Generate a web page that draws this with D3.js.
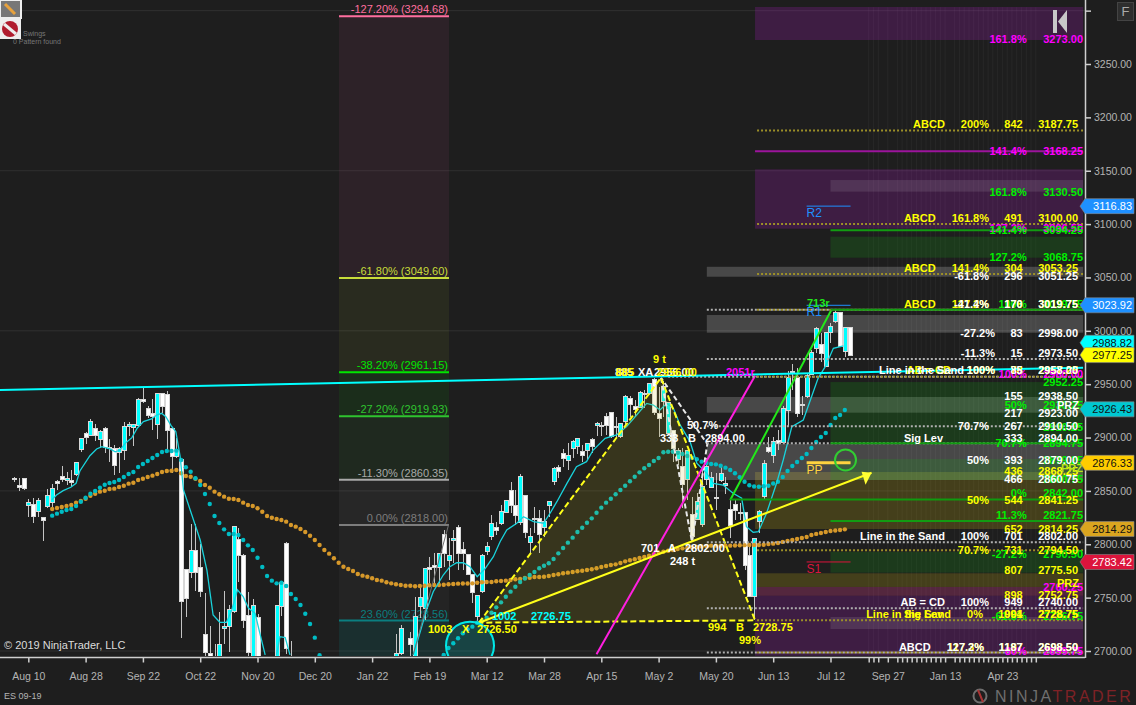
<html>
<head>
<meta charset="utf-8">
<script src="https://d3js.org/d3.v7.min.js"></script>
<style>
    body { margin: 0; background: #1e1e1e; overflow: hidden; }
    svg { display: block; font-family: "Liberation Sans", Arial, sans-serif; }
    .axis path, .axis line { stroke: #cfcfcf; stroke-width: 1.5px; }
    .axis text { fill: #b4b4b4; font-size: 10.5px; font-family: "Liberation Sans", Arial, sans-serif; }
    .row text, .note { font-size: 11px; font-weight: bold; }
</style>
</head>
<body>
<svg width="1136" height="705"></svg>
<script>
// candles, first one is bar -3, bar 0 is the "Aug 10" tick. null = below the panel
const firstBar = -3;
const opens = [
  2861.5, 2855.25, 2861.75, 2836.5, 2837.5, 2830.5, 2825.25, 2835.25, 2839, 2858.5,
  2863.75, 2859.5, 2860, 2865, 2889, 2904, 2902, 2908.75, 2898.5, 2908.75,
  2890.5, 2890, 2885.75, 2888, 2910.25, 2909.25, 2911, 2935.75, 2927.5, 2922.75,
  2912.5, 2941.5, 2940, 2908.75, 2882, 2879.5, 2776.5, 2774, 2794, 2778.5,
  2715.5, 2697.75, 2688, 2690, 2721.25, 2722.75, 2736.75, 2804.75, 2789.75, 2733.5,
  2680, 2731.5, null, null, null, 2680, 2741.5, 2801, 2690,
  null, null, null, null, null, null, null, null, null, null, null, null, null, null, null, null, null, null, null, null, null,
  2690, 2697.75, null, 2712, 2690, 2741.5, 2740, 2778.5, 2780, 2778,
  2808.75, 2785.25, 2803.75, 2816, 2795.25, 2790.5, 2772, 2732.75, 2755.5, 2793,
  2807, 2815.5, 2819.75, 2830, 2850, 2836.75, 2820.25, 2846, 2801.75, 2823.75,
  2824.25, 2816, 2836, 2858.5, 2872, 2885.25, 2878.25, 2889.5, 2891.5, 2886.75,
  2887.75, 2898, 2911, 2911.75, 2919.5, 2923.75, 2910.25, 2900.75, 2915, 2937,
  2929.5, 2928.25, 2941.5, 2941.5, 2954.5, 2922.75, 2933.5, 2904, 2906.5, 2879,
  2872.75, 2860.25, 2827.5, 2822.75, 2818.75, 2860.25, 2853, 2842.5, 2859.5, 2855.5,
  2832.75, 2837.5, 2830, 2830, 2789.25, 2751, 2821.25, 2844.5, 2890.75, 2883,
  2897, 2895.25, 2925.75, 2961.75, 2956.5, 2931.25, 2938.25, 2959.5, 2983.5, 2986.75,
  2966.5, 2998.25, 3008.5, 3017.5, 2980.5, 3003
];
const highs = [
  2863, 2862, 2862, 2842.5, 2843.5, 2843.5, 2825.5, 2851.5, 2856.5, 2860.25,
  2873.25, 2867.5, 2869.5, 2877, 2899.25, 2905.5, 2917, 2912.5, 2907, 2909.5,
  2898.5, 2892.75, 2891.5, 2914.25, 2914.25, 2912.5, 2936.75, 2946.75, 2929.75, 2936,
  2941.5, 2941.5, 2943.5, 2908.75, 2899.5, 2880.75, 2776.5, 2819, 2819, 2800.25,
  2754, 2723.5, 2706.5, 2736.25, 2756.25, 2742.75, 2816.5, 2815, 2791, 2755.25,
  2748.5, 2734.5, null, null, null, 2742.25, 2765, 2802, 2709.5,
  null, null, null, null, null, null, null, null, null, null, null, null, null, null, null, null, null, null, null, null, null,
  2716, 2724.5, null, 2718, 2751, 2760.25, 2777.5, 2788.5, 2791.5, 2792,
  2813.5, 2805.5, 2813.5, 2818, 2802.5, 2791, 2772, 2751.75, 2790.5, 2802.5,
  2827.5, 2821.25, 2836.75, 2841, 2858, 2851, 2865.5, 2846.25, 2815.5, 2835.25,
  2832, 2832, 2840.5, 2872.75, 2874.25, 2889, 2894.5, 2897.75, 2899.5, 2893,
  2894.75, 2899.25, 2915, 2914.25, 2923.25, 2923.75, 2919.5, 2913.5, 2940, 2939,
  2935.25, 2943.5, 2944.5, 2950.75, 2955.75, 2947.75, 2953, 2933.5, 2907, 2890.5,
  2890.5, 2888.25, 2844.5, 2847.75, 2869.5, 2880.5, 2868, 2866.5, 2874.25, 2863.25,
  2841.5, 2842, 2838.5, 2830.5, 2797.75, 2805.5, 2832, 2879, 2900.75, 2900.75,
  2907, 2929.5, 2962.5, 2969, 2965, 2939, 2960.25, 2982, 3003.25, 2997.75,
  2999, 3007, 3019.5, 3017.5, 3003.75, 3003
];
const lows = [
  2858.5, 2850, 2851, 2825.5, 2820, 2825.75, 2803, 2834.25, 2835.25, 2850.5,
  2858.5, 2855.5, 2853.5, 2864, 2886.75, 2894, 2901.5, 2897, 2890, 2885.5,
  2876.75, 2865, 2867, 2879, 2901.75, 2892.5, 2910.25, 2932, 2918, 2907,
  2898.5, 2922.75, 2886.75, 2866.5, 2880.5, 2712.5, 2732, 2768, 2756.25, 2751,
  2695, 2688, 2675, 2685, 2707, 2699, 2736, 2765, 2721.25, 2695,
  2675, 2670, null, null, null, 2675, 2732.75, 2697, 2675,
  null, null, null, null, null, null, null, null, null, null, null, null, null, null, null, null, null, null, null, null, null,
  2685, 2696, null, 2695, 2685, 2730.5, 2729, 2763.5, 2763.5, 2763.5,
  2779, 2766.5, 2782.25, 2776, 2776, 2771.25, 2744.75, 2726.5, 2754, 2790,
  2804, 2808.75, 2818, 2829, 2829, 2818, 2818, 2805.5, 2791.5, 2810.25,
  2792, 2807, 2825.75, 2855.5, 2861.75, 2872.75, 2869.5, 2880.5, 2884.5, 2877.5,
  2879, 2885.25, 2901.75, 2901.75, 2902.5, 2899.25, 2899.5, 2899.25, 2911.75, 2919.5,
  2919.5, 2927.5, 2927.5, 2940, 2921, 2900.75, 2919.5, 2902.5, 2877.5, 2874.25,
  2833.75, 2841.5, 2805, 2822.5, 2816.5, 2855.5, 2852.5, 2832, 2858.5, 2847,
  2806.25, 2822.75, 2822.75, 2776, 2751, 2728.75, 2810.25, 2841.5, 2885.5, 2875.75,
  2888.25, 2894.5, 2910.25, 2944.5, 2919.5, 2921, 2936.75, 2958.5, 2979, 2971,
  2965.75, 2988.25, 3007, 2984.5, 2975.75, 2976.75
];
const closes = [
  2860.5, 2853.5, 2852, 2839.5, 2825.75, 2841.25, 2822, 2846, 2852.5, 2856.75,
  2860.5, 2861.75, 2858, 2876.75, 2899.25, 2900, 2915.25, 2901.75, 2905.5, 2890.5,
  2890, 2874.25, 2890, 2910.5, 2912.5, 2912.5, 2935.75, 2933.5, 2921, 2919.5,
  2941.5, 2929, 2907, 2882, 2888.25, 2746.25, 2749, 2794, 2773.5, 2755.5,
  2698.5, 2692, 2680, 2706.5, 2723, 2739, 2816.5, 2789.75, 2728.5, 2698.5,
  2742.75, 2675, null, null, null, 2742.25, 2764, 2702, 2680,
  null, null, null, null, null, null, null, null, null, null, null, null, null, null, null, null, null, null, null, null, null,
  2697.75, 2721.25, null, 2706.25, 2732.75, 2750.25, 2777.5, 2776.75, 2778, 2791.5,
  2791.25, 2789.75, 2805.5, 2791.5, 2791.5, 2772, 2755, 2751.75, 2789.25, 2797.75,
  2819.75, 2813, 2830.5, 2840.75, 2836.75, 2826.75, 2863.25, 2811.25, 2807, 2823,
  2809.5, 2821.25, 2840.5, 2871.25, 2867.75, 2880, 2883.5, 2896.75, 2899.25, 2883,
  2894.5, 2891.5, 2913.5, 2911, 2911.75, 2900.75, 2909.5, 2913.5, 2938.25, 2931.25,
  2926.5, 2942, 2940.75, 2950.25, 2923.75, 2917.5, 2947.75, 2933, 2890, 2888.25,
  2856.25, 2887.5, 2807.75, 2840, 2854.5, 2872.75, 2862.5, 2844, 2866.5, 2857,
  2818, 2831.5, 2829, 2780, 2751.5, 2805.5, 2830.5, 2875.75, 2886.75, 2896,
  2894.5, 2927.5, 2956.5, 2960.75, 2922.75, 2930.5, 2958.5, 2979.5, 3002.5, 2979,
  2998.25, 3004.5, 3017.5, 2985.75, 3003, 2977.25
];

// the two dotted averages, one value per bar
const orangeFirstBar = 5;
const orangeDots = [
  2833.1, 2834, 2834.9, 2835.9, 2836.8, 2839, 2840.6, 2842.7, 2845.5, 2847.4, 2849.3, 2850.2, 2851.8, 2852.1, 2853.7,
  2854.9, 2856.8, 2857.7, 2860.2, 2861.4, 2863, 2864.3, 2865.8, 2867.7, 2868.7, 2868.9, 2869.6,
  2866.5, 2864, 2863.3, 2861.4, 2859.3, 2855.5, 2853, 2849.3, 2846.8, 2844.6, 2842.7, 2842.4, 2841.5, 2839, 2836.8, 2835.9,
  2833.7, 2830.5, 2826.5, 2824.9, 2823.7, 2822.7, 2821.2, 2818.1, 2816.5, 2814.3, 2811.5, 2808, 2804, 2799.3, 2794.6, 2791.2, 2786.9, 2782.7,
  2779, 2776.8, 2775, 2772.1, 2770.6, 2769.6, 2768.1, 2766.5, 2765.9, 2764.4, 2763.4, 2762.5, 2761.8, 2761.2, 2761.2, 2760.6, 2760.9, 2761.2, 2761.6, 2761.8, 2761.8,
  2762.1, 2762.5, 2762.8, 2763.1, 2763.3, 2763.3, 2763.4, 2764, 2764.4, 2764.7, 2764.7, 2765.3, 2765.6, 2765.9, 2766.5, 2767.2, 2767.5, 2768.4, 2768.7, 2769.3, 2769.3,
  2769.6, 2770.3, 2771.2, 2771.9, 2772.8, 2773.4, 2774, 2774.7, 2775.2, 2775.9, 2776.6, 2777.5, 2778.7, 2779.6, 2780.6, 2781.2, 2782.5, 2784, 2785, 2785.9, 2787.1,
  2788.1, 2789.3, 2790.6, 2792.1, 2793, 2794, 2794.6, 2795.6,
  2796.2, 2796.5, 2797, 2797.4, 2797.9, 2798.4, 2798.7, 2798.7, 2798.7, 2798.7, 2798.7, 2798.9, 2799.1, 2799.2, 2799.3, 2799.3, 2799.3, 2799.6, 2800.3, 2800.6,
  2801.2, 2802.2, 2803.1, 2804, 2805, 2805.9, 2806.8, 2808.7, 2809.7, 2810.6, 2811.5, 2812.4, 2812.9, 2813.4, 2814
];
const tealFirstBar = 5;
const tealDots = [
  2826.8, 2828.7, 2830.5, 2832.1, 2833.1, 2835.9, 2839.9, 2843.6, 2847.4, 2849.9, 2853, 2855.8, 2857.4, 2858.4, 2860.2,
  2863, 2865.8, 2867.7, 2872.4, 2875.2, 2878, 2880.8, 2883.7, 2886.5, 2887.4, 2887.4, 2887.7,
  2879, 2872.1, 2868, 2861.8, 2855.5, 2847.1, 2837.7, 2826.5, 2819.9, 2814, 2809.6, 2809.6, 2808.7, 2804, 2799, 2794.6, 2787.4, 2778.7,
  2770.3, 2765.9, 2763.4, 2764, 2760.9, 2753.4, 2748.7, 2743.1, 2734.9, 2725.3, 2712.5, 2696,
  null, null, null, null, null, null, null, null, null, null, null, null, null, null, null, null, null, null, null, null, null, null, null, null, null,
  2696.3, 2702.8, 2707.2, 2711.9, 2716.6, 2720.3, 2722.8, 2726.5, 2728.4, 2731.2, 2735.9, 2740.9, 2745.6, 2750.9, 2755.6, 2760.2, 2764.7, 2767.9, 2771.2, 2774,
  2777.5, 2779.9, 2782.2, 2786.2, 2791.5, 2796.5, 2801.5, 2806.2, 2811.5, 2815.5, 2820.2, 2824.3, 2829.6, 2834.3, 2839, 2842.7, 2846.8, 2850.9,
  2854.9, 2859, 2863.3, 2867.4, 2871.2, 2874.3, 2878, 2880.8, 2886.2, 2886.7, 2886.7,
  2885.8, 2884.6, 2882.7, 2881.1, 2879.6, 2877.4, 2876.2, 2875.2, 2874.9, 2873.6, 2871.8, 2869.6, 2866.5, 2862.8, 2858.6, 2855.3,
  2854.1, 2853.9, 2854.4, 2854.9, 2857, 2858.6, 2863, 2868.7, 2873.3, 2877.1, 2880.8, 2884.6, 2890.2, 2895.8, 2900.5, 2904.3, 2911.8, 2918.3, 2921.1, 2925.8
];

// thin cyan average, read as bar / price pairs. it leaves the panel twice so it has 3 pieces
const maBars = [
  [4.9, 5.9, 7.3, 8.9, 10, 10.8, 12.9, 14.3, 15.4, 17.1, 18.2, 19.2, 20.3, 21.7, 22.8, 24.1, 25.8, 26.9, 27.9, 28.8, 29.9, 30.9, 31.8,
   32.5, 33.9, 36, 37.4, 38.7, 40.1, 41.5, 42.6, 43.8, 45, 46.1, 47.5, 48.5, 49.6],
  [52, 52.7, 53.8, 54.8],
  [80.6, 82, 83.4, 84.8, 86.9, 88.3, 89.7, 91.1, 92.5, 94, 95.6, 97.4, 98.8, 100.2, 102.3, 103.7, 105.8, 107.9, 109.3, 110.7,
   112.8, 114.8, 116.9, 118.3, 120.8, 123.2, 125.3, 127.4, 129.5, 130.9, 132.3, 133.7, 135.1, 136.5, 138.6, 140, 142.1, 143.5, 145.5, 147.6,
   149.4, 150.4, 151.8, 152.9, 154.6, 156.7, 158.1, 159.9, 162.3, 165.4, 166.9, 168.6, 170.7]
];
const maVals = [
  [2841.5, 2846.2, 2850.2, 2853.4, 2857.1, 2868.7, 2883, 2889.3, 2891.4, 2889.3, 2886.7, 2888.3, 2894.6, 2899.9, 2908.7, 2914.9, 2917.4, 2921.1, 2922.7, 2919.5, 2911.1, 2905.5, 2882.1,
   2850.9, 2832.1, 2804, 2775.9, 2733.7, 2726.9, 2726.9, 2738.4, 2757.2, 2750.9, 2740.3, 2735.3, 2716.6, 2696.3],
  [2696.3, 2713.4, 2712.5, 2696.3],
  [2696.3, 2716.9, 2738.4, 2755.6, 2771.2, 2779, 2782.7, 2782.7, 2779, 2769.6, 2776.8, 2788.4, 2802.4, 2813.4, 2819.7, 2825.8, 2821.2, 2819.7, 2829.3, 2839.9,
   2857.1, 2872.7, 2877.4, 2888.3, 2899.3, 2902.4, 2910.2, 2921.1, 2932, 2930.5, 2925.8, 2932, 2927.4, 2911.8, 2896.1, 2875.9, 2866.5, 2857.1, 2855.5, 2847.8,
   2843.1, 2816.5, 2811.2, 2811.8, 2829, 2857.1, 2879, 2910.2, 2916.4, 2955.5, 2966.4, 2983.6, 2985.8]
];

// axes
const priceTicks = d3.range(2700, 3301, 50);
const gridPrices = [2700, 2850, 3000, 3150, 3300];
const dateLabels = ['Aug 10', 'Aug 28', 'Sep 22', 'Oct 22', 'Nov 20', 'Dec 20', 'Jan 22', 'Feb 19', 'Mar 12', 'Mar 28', 'Apr 15', 'May 2', 'May 20', 'Jun 13', 'Jul 12', 'Sep 27', 'Jan 13', 'Apr 23'];
const dateBars = [0, 12, 24, 36, 48, 60, 72, 84, 96, 108, 120, 132, 144, 156, 168, 180, 192, 204];
const futureBars = [176, 177, 178, 182, 183, 184, 185, 186, 187, 188, 189, 190, 191, 194, 195, 196, 197, 198, 199, 200, 201, 202, 203, 205, 206, 207, 208, 209, 210, 211];

// fib column on the left
const fibPrices = [3294.68, 3049.60, 2961.15, 2919.93, 2860.35, 2818.00, 2728.56];
const fibPcts = ['-127.20%', '-61.80%', '-38.20%', '-27.20%', '-11.30%', '0.00%', '23.60%'];
const fibColors = ['#ff6f9f', '#c8dc3a', '#00e600', '#2fc42f', '#a9a9a9', '#7d7d7d', '#0a7f80'];
const fibFills = ['#ff69b4', '#cddc39', '#00ff00', '#32cd32', '#a9a9a9', '#808080', '#00a0a0'];
const fibBars = [65.07, 88.1];

// zones, [top price, bottom price]
const purpleZones = [[3303.4, 3272.5], [3151.3, 3095.7], [2751.8, 2695.6]];
const pinkZones = [[2760, 2751.8]];
const oliveZones = [[2867.7, 2814.3], [2772.8, 2760]];
const grayWideZones = [[3060, 3050.7], [3014.8, 2998.2], [2938, 2923.3], [2894, 2860.2]];
const grayNarrowZones = [[3141.3, 3130.4], [2731.9, 2720.6]];
const greenZones = [[3088.2, 3068.5], [2952, 2895.8], [2879.9, 2860.2], [2793, 2773.4]];

// level lines
const whiteDotted = [3019.75, 2973.5, 2910.5, 2894.75, 2802, 2740, 2698.5];
const yellowDotted = [3187.75, 3100, 3053.25, 3019.75, 2957, 2794.5, 2728.75, 2698.5];
const greenSolid = [3094.25, 3019.75, 2894.75, 2821.75];

// label tables: name, percent, count, price
const whiteAbove = [
  ['', '-41.4%', '170', 3019.75], ['', '-11.3%', '15', 2973.5], ['Line in the Sand', '100%', '85', 2958],
  ['Sig Lev', '', '333', 2894], ['Line in the Sand', '100%', '701', 2802], ['AB = CD', '100%', '949', 2740], ['ABCD', '127.2%', '1187', 2698.5]
];
const whiteCentered = [
  ['', '-61.8%', '296', 3051.25], ['', '-27.2%', '83', 2998], ['', '', '155', 2938.5], ['', '', '217', 2923],
  ['', '70.7%', '267', 2910.5], ['', '50%', '393', 2879], ['', '', '466', 2860.75]
];
const yellowAbove = [
  ['ABCD', '200%', '842', 3187.75], ['ABCD', '161.8%', '491', 3100], ['ABCD', '141.4%', '304', 3053.25], ['ABCD', '127.2%', '176', 3019.75],
  ['AB = CD', '100%', '78', 2957.25], ['Sig Lev', '', '1001', 2728.75], ['Line in the Sand', '0%', '994', 2728.75], ['', '117.3%', '1197', 2698.5]
];
const yellowCentered = [
  ['', '', '436', 2868.25], ['', '50%', '544', 2841.25], ['', '', '652', 2814.25], ['', '70.7%', '731', 2794.5], ['', '', '807', 2775.5], ['', '', '898', 2752.75]
];
const greenAbove = [['100%', 3019.75], ['0%', 2842], ['11.3%', 2821.75], ['-61.8%', 2726.75]];
const greenCentered = [
  ['161.8%', 3130.5], ['141.4%', 3094.25], ['127.2%', 3068.75], ['', 2952.25], ['50%', 2930.25], ['', 2910.25],
  ['70.7%', 2894.75], ['', 2879.25], ['', 2860.75], ['-27.2%', 2790.5]
];
const magentaCentered = [
  ['161.8%', 3273], ['141.4%', 3168.25], ['127.2%', 3096.5], ['100%', 2960], ['', 2760.25], ['80%', 2699.75]
];

// price flags on the axis
const flagPrices = [3116.83, 3023.92, 2988.82, 2977.25, 2926.43, 2876.33, 2814.29, 2783.42];
const flagFills = ['#1e90ff', '#1e90ff', '#00ffff', '#ffff00', '#00c8d2', '#ffcc00', '#daa520', '#dc143c'];
const flagInks = ['#fff', '#fff', '#111', '#111', '#111', '#111', '#111', '#fff'];

let svg = d3.select('svg'),
    plotW = 1085,
    plotH = 656;

let x = d3.scaleLinear().domain([-5.93, 221.3]).range([0, plotW]);
let y = d3.scaleLinear().domain([2700, 3250]).range([651, 64]);

svg.append('rect').attr('width', 1136).attr('height', 705).attr('fill', '#1e1e1e');
svg.append('clipPath').attr('id', 'plot').append('rect').attr('width', plotW).attr('height', plotH);
let plot = svg.append('g').attr('clip-path', 'url(#plot)');

// grid
plot.selectAll('.grid').data(gridPrices).enter().append('line')
    .attr('x1', 0).attr('x2', plotW)
    .attr('y1', d => y(d)).attr('y2', d => y(d))
    .attr('stroke', '#303030');
plot.selectAll('.vgrid').data(futureBars.concat([180, 192, 204])).enter().append('line')
    .attr('x1', d => x(d)).attr('x2', d => x(d))
    .attr('y1', 7).attr('y2', plotH)
    .attr('stroke', 'rgba(255,255,255,0.045)');

// fib column
let fibBottom = [fibPrices[1], fibPrices[2], fibPrices[3], fibPrices[4], fibPrices[5], fibPrices[6], 2690];
plot.selectAll('.fibband').data(fibPrices).enter().append('rect')
    .attr('x', x(fibBars[0])).attr('width', x(fibBars[1]) - x(fibBars[0]))
    .attr('y', d => y(d))
    .attr('height', (d, i) => y(fibBottom[i]) - y(d))
    .attr('fill', (d, i) => fibFills[i]).attr('opacity', (d, i) => i == 6 ? 0.13 : 0.07);
plot.selectAll('.fibline').data(fibPrices).enter().append('line')
    .attr('x1', x(fibBars[0])).attr('x2', x(fibBars[1]))
    .attr('y1', d => y(d)).attr('y2', d => y(d))
    .attr('stroke', (d, i) => fibColors[i]).attr('stroke-width', 2);
plot.selectAll('.fibtext').data(fibPrices).enter().append('text')
    .attr('x', x(fibBars[1]) - 1).attr('y', d => y(d) - 3)
    .attr('text-anchor', 'end').attr('font-size', '11px')
    .attr('fill', (d, i) => fibColors[i])
    .text((d, i) => fibPcts[i] + ' (' + d.toFixed(2) + ')');

// zones
function zones(list, fromBar, fill) {
    plot.append('g').selectAll('rect').data(list).enter().append('rect')
        .attr('x', x(fromBar)).attr('width', x(220.9) - x(fromBar))
        .attr('y', d => y(d[0])).attr('height', d => y(d[1]) - y(d[0]))
        .attr('fill', fill);
}
zones(purpleZones, 152.2, 'rgba(150,30,170,0.27)');
zones(pinkZones, 152.2, 'rgba(200,60,130,0.32)');
zones(oliveZones, 152.2, 'rgba(170,150,20,0.28)');
zones(grayWideZones, 142.1, 'rgba(255,255,255,0.19)');
zones(grayNarrowZones, 168, 'rgba(255,255,255,0.1)');
zones(greenZones, 168, 'rgba(20,170,20,0.2)');

// candles, snapped to whole pixels like the platform draws them
let bars = opens.map((o, i) => ({ bar: i + firstBar, o: o, h: highs[i], l: lows[i], c: closes[i] }))
    .filter(d => d.o != null);
let candles = plot.append('g').attr('shape-rendering', 'crispEdges');
candles.selectAll('line').data(bars).enter().append('line')
    .attr('x1', d => Math.round(x(d.bar)) + 0.5).attr('x2', d => Math.round(x(d.bar)) + 0.5)
    .attr('y1', d => y(d.h)).attr('y2', d => y(d.l))
    .attr('stroke', '#c4c4c4');
candles.selectAll('rect').data(bars).enter().append('rect')
    .attr('x', d => Math.round(x(d.bar)) - 1.5).attr('width', 4)
    .attr('y', d => y(Math.max(d.o, d.c)))
    .attr('height', d => Math.max(1, Math.abs(y(d.o) - y(d.c))))
    .attr('fill', d => d.c > d.o ? '#00ffff' : '#ffffff')
    .attr('stroke', '#d8d8d8');

// averages
function dots(values, first, color) {
    plot.append('g').selectAll('circle')
        .data(values.map((v, i) => ({ bar: i + first, v: v })).filter(d => d.v != null))
        .enter().append('circle')
        .attr('cx', d => x(d.bar)).attr('cy', d => y(d.v)).attr('r', 2.2)
        .attr('fill', color);
}
dots(orangeDots, orangeFirstBar, '#d6982a');
dots(tealDots, tealFirstBar, '#00bcc4');

let maLine = d3.line().x(d => x(d[0])).y(d => y(d[1]));
plot.append('g').selectAll('path').data(maBars.map((b, i) => b.map((v, j) => [v, maVals[i][j]]))).enter().append('path')
    .attr('d', maLine).attr('fill', 'none').attr('stroke', '#19d3dc').attr('stroke-width', 1.3);

// harmonic pattern, bar / price
const patX = [94.4, 2726.5], patA = [132.5, 2956], patD = [152.2, 2728.75];
const patLegA = [139, 2802], patB = [142.2, 2894];
const arrowEnd = [176.6, 2867];
const magentaLeg = [[119, 2697], [152.2, 2958]];
const greenLeg = [[147, 2841.5], [168.2, 3019.75]];
const trend = [[-5.93, 2944.6], [220.9, 2965.5]];
const fibTrend = [[80.6, 2696.5], [88, 2818]];

plot.append('path').attr('d', maLine([patX, patA, patD]) + 'Z')
    .attr('fill', 'rgba(200,190,30,0.15)');
function seg(points, color, width, dash) {
    return plot.append('path').attr('d', maLine(points)).attr('fill', 'none')
        .attr('stroke', color).attr('stroke-width', width).attr('stroke-dasharray', dash || null);
}
seg(fibTrend, '#707070', 1);
seg([patA, patLegA, patB, patA], '#e8e8e8', 2, '5 3');
seg([patX, patA, patD, patX], '#ffff1a', 2, '6 3');
seg(magentaLeg, '#ff1fe0', 2);
seg(greenLeg, '#22e81a', 2);
plot.append('line').attr('x1', x(147)).attr('x2', x(220.9)).attr('y1', y(2842)).attr('y2', y(2842))
    .attr('stroke', '#0f9a0f').attr('stroke-width', 2);
seg([patX, arrowEnd], '#ffff1a', 2);
let tip = [x(arrowEnd[0]), y(arrowEnd[1])];
plot.append('path').attr('d', 'M' + tip + 'L' + (tip[0] - 10) + ',' + (tip[1] - 1) + 'L' + (tip[0] - 6) + ',' + (tip[1] + 12) + 'Z')
    .attr('fill', '#ffff33');

// level lines
plot.append('g').selectAll('line').data(whiteDotted).enter().append('line')
    .attr('x1', x(142.1)).attr('x2', x(220.9)).attr('y1', d => y(d)).attr('y2', d => y(d))
    .attr('stroke', '#b0b0b0').attr('stroke-width', 2).attr('stroke-dasharray', '2 2');
plot.append('line').attr('x1', x(134)).attr('x2', x(220.9)).attr('y1', y(2957)).attr('y2', y(2957))
    .attr('stroke', '#b0b0b0').attr('stroke-width', 2).attr('stroke-dasharray', '2 2');
plot.append('g').selectAll('line').data(yellowDotted).enter().append('line')
    .attr('x1', x(152.2)).attr('x2', x(220.9)).attr('y1', d => y(d)).attr('y2', d => y(d))
    .attr('stroke', '#9c8f28').attr('stroke-width', 2).attr('stroke-dasharray', '2 2').attr('stroke-dashoffset', 2);
plot.append('g').selectAll('line').data(greenSolid).enter().append('line')
    .attr('x1', x(168)).attr('x2', x(220.9)).attr('y1', d => y(d)).attr('y2', d => y(d))
    .attr('stroke', '#129c12').attr('stroke-width', 2);
plot.append('line').attr('x1', x(152.2)).attr('x2', x(220.9)).attr('y1', y(3168.25)).attr('y2', y(3168.25))
    .attr('stroke', '#9c149c').attr('stroke-width', 2);
seg(trend, '#00ffff', 2);

// pivots
const pivotPrices = [3116.83, 3023.92, 2876.33, 2783.42];
const pivotNames = ['R2', 'R1', 'PP', 'S1'];
const pivotColors = ['#1e90ff', '#1e90ff', '#ffd23f', '#dc143c'];
plot.append('g').selectAll('line').data(pivotPrices).enter().append('line')
    .attr('x1', x(163)).attr('x2', x(172.2)).attr('y1', d => y(d)).attr('y2', d => y(d))
    .attr('stroke', (d, i) => pivotColors[i]).attr('stroke-width', (d, i) => i == 2 ? 3 : 1);
plot.append('g').selectAll('text').data(pivotPrices).enter().append('text')
    .attr('x', x(163)).attr('y', d => y(d) + 11)
    .attr('fill', (d, i) => pivotColors[i]).attr('font-size', '12px')
    .text((d, i) => pivotNames[i]);
plot.append('circle').attr('cx', 845.5).attr('cy', y(2879)).attr('r', 10.5)
    .attr('fill', 'none').attr('stroke', '#32cd32').attr('stroke-width', 2);
plot.append('circle').attr('cx', 470).attr('cy', y(2705)).attr('r', 24)
    .attr('fill', 'rgba(0,220,220,0.2)').attr('stroke', '#00e8e8').attr('stroke-width', 2);

// right hand label tables
const columns = { pct: 989, count: 1022.7, price: 1078, pct2: 1026.7, price2: 1083 };
const pctRightByPrice = { 2998: 995, 2973.5: 995, 2958: 995, 2957.25: 995, 2728.75: 983, 2698.5: 984 };
const nameRightByPrice = { 2958: 964 };

function rows(list, color, dy) {
    let g = svg.append('g').attr('class', 'row').attr('fill', color);
    list.forEach(r => {
        let yy = y(r[3]) + dy;
        let pctRight = pctRightByPrice[r[3]] || columns.pct;
        let pct = g.append('text').attr('x', pctRight).attr('y', yy).attr('text-anchor', 'end').text(r[1]);
        g.append('text').attr('x', columns.count).attr('y', yy).attr('text-anchor', 'end').text(r[2]);
        g.append('text').attr('x', columns.price).attr('y', yy).attr('text-anchor', 'end').text(r[3].toFixed(2));
        if (r[0]) {
            let nameRight = nameRightByPrice[r[3]] || pctRight - pct.node().getComputedTextLength() - 16;
            if (r[0] == 'Sig Lev') nameRight = 943;
            g.append('text').attr('x', nameRight).attr('y', yy).attr('text-anchor', 'end').text(r[0]);
        }
    });
}
function shortRows(list, color, dy) {
    let g = svg.append('g').attr('class', 'row').attr('fill', color);
    list.forEach(r => {
        g.append('text').attr('x', columns.pct2).attr('y', y(r[1]) + dy).attr('text-anchor', 'end').text(r[0]);
        g.append('text').attr('x', columns.price2).attr('y', y(r[1]) + dy).attr('text-anchor', 'end').text(r[1].toFixed(2));
    });
}
shortRows(magentaCentered, '#ff00ff', 4);
shortRows(greenCentered, '#00f000', 4);
shortRows(greenAbove, '#00f000', -2);
rows(yellowCentered, '#ffff00', 4);
rows(yellowAbove, '#ffff00', -2);
rows(whiteCentered, '#ffffff', 4);
rows(whiteAbove, '#ffffff', -2);

// loose notes on the pattern
function note(txt, px, py, color, anchor) {
    svg.append('text').attr('class', 'note').attr('x', px).attr('y', py)
        .attr('fill', color).attr('text-anchor', anchor || 'start').text(txt);
}
note('1003', 428, 633, '#ffff00');
note('X', 462, 633, '#ffff00');
note('2726.50', 477, 633, '#ffff00');
note('1002', 492, 620, '#00ffff');
note('2726.75', 531, 620, '#00ffff');
note('701', 641, 552, '#ffffff');
note('A', 668, 552, '#ffffff');
note('2802.00', 685, 552, '#ffffff');
note('248 t', 670, 565, '#ffffff');
note('994', 708, 631, '#ffff00');
note('B', 736, 631, '#ffff00');
note('2728.75', 753, 631, '#ffff00');
note('99%', 739, 644, '#ffff00');
note('885', 615, 376, '#ffffff');
note('885', 616, 376, '#ffff00');
note('XA', 638, 376, '#ffffff');
note('2956.00', 654, 376, '#ffffff');
note('2956.00', 657, 376, '#ffff00');
note('9 t', 653, 363, '#ffff00');
note('333', 660, 442, '#ffffff');
note('B', 688, 442, '#ffffff');
note('2894.00', 705, 442, '#ffffff');
note('50.7%', 687, 429, '#ffffff');
note('2051r', 726, 376, '#ff00ff');
note('713r', 807, 307, '#22e81a');
note('PRZ', 1057, 409, '#ffffff');
note('PRZ', 1061, 472, '#b6e61a');
note('PRZ', 1057, 587, '#ffff00');

// axes
let yAxis = d3.axisRight(y).tickValues(priceTicks).tickSize(6).tickPadding(3)
    .tickFormat(d => d == 3300 ? '' : d.toFixed(2));
svg.append('g').attr('class', 'axis').attr('transform', 'translate(' + plotW + ',0)').call(yAxis)
    .select('.domain').attr('d', 'M0.5,0V658');
let xAxis = d3.axisBottom(x).tickValues(dateBars.concat(futureBars)).tickSize(5).tickPadding(10)
    .tickFormat(d => dateLabels[dateBars.indexOf(d)] || '');
svg.append('g').attr('class', 'axis').attr('transform', 'translate(0,657.5)').call(xAxis)
    .select('.domain').attr('d', 'M0,0H' + plotW);

// flags sit over the axis
let flags = svg.append('g').selectAll('g').data(flagPrices).enter().append('g')
    .attr('transform', d => 'translate(0,' + y(d) + ')');
flags.append('path').attr('d', 'M1080,0L1085,-7.5H1134V7.5H1085Z')
    .attr('fill', (d, i) => flagFills[i]).attr('stroke', '#8a8a8a').attr('stroke-width', 0.6);
flags.append('text').attr('x', 1132).attr('y', 4).attr('text-anchor', 'end')
    .attr('font-size', '11px').attr('fill', (d, i) => flagInks[i]).text(d => d.toFixed(2));

// corner furniture
svg.append('text').attr('x', 4).attr('y', 649).attr('font-size', '11px').attr('fill', '#dcdcdc').text('\u00a9 2019 NinjaTrader, LLC');
svg.append('text').attr('x', 4).attr('y', 699).attr('font-size', '9px').attr('fill', '#b4b4b4').text('ES 09-19');

svg.append('rect').attr('x', 0).attr('y', 0).attr('width', 21).attr('height', 18).attr('fill', '#777').attr('stroke', '#eee').attr('stroke-width', 2);
svg.append('line').attr('x1', 5).attr('y1', 4).attr('x2', 15).attr('y2', 14).attr('stroke', '#e8a23c').attr('stroke-width', 3);
svg.append('rect').attr('x', 0).attr('y', 19).attr('width', 21).attr('height', 20).attr('fill', '#eee');
svg.append('circle').attr('cx', 10).attr('cy', 29).attr('r', 8).attr('fill', '#b01c2e');
svg.append('line').attr('x1', 4).attr('y1', 24).attr('x2', 16).attr('y2', 34).attr('stroke', '#eee').attr('stroke-width', 3);
svg.append('text').attr('x', 23).attr('y', 36).attr('font-size', '7px').attr('fill', '#777').text('Swings');
svg.append('text').attr('x', 13).attr('y', 44).attr('font-size', '7px').attr('fill', '#777').text('0 Pattern found');

svg.append('rect').attr('x', 1117.5).attr('y', 2.5).attr('width', 16).attr('height', 18).attr('fill', '#2e2e2e').attr('stroke', '#444');
svg.append('text').attr('x', 1125.5).attr('y', 16).attr('text-anchor', 'middle').attr('font-size', '13px').attr('fill', '#aaa').text('F');
svg.append('rect').attr('x', 1053).attr('y', 10).attr('width', 4).attr('height', 23).attr('fill', '#c8c8c8');
svg.append('path').attr('d', 'M1067,10L1058,21.5L1067,33Z').attr('fill', '#c8c8c8');

svg.append('circle').attr('cx', 980).attr('cy', 696).attr('r', 6.5).attr('fill', 'none').attr('stroke', '#6f6f6f').attr('stroke-width', 2);
svg.append('path').attr('d', 'M978,690L983,702').attr('stroke', '#a33').attr('stroke-width', 2);
let logo = svg.append('text').attr('x', 995).attr('y', 702).attr('font-size', '16px').attr('letter-spacing', '2.5px');
logo.append('tspan').attr('fill', '#6f6f6f').text('NINJA');
logo.append('tspan').attr('fill', '#7e2226').text('TRADER');
</script>
</body>
</html>
